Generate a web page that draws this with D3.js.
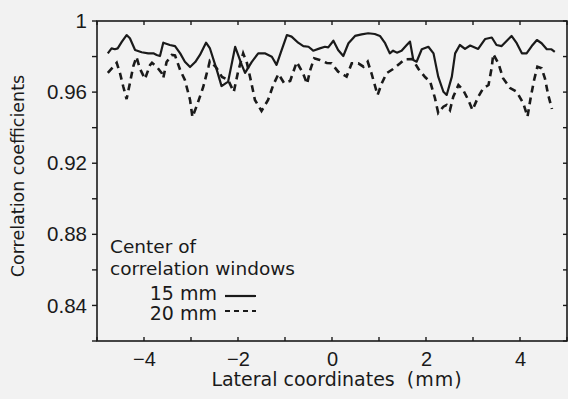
<!DOCTYPE html>
<html>
<head>
<meta charset="utf-8">
<script src="https://cdn.jsdelivr.net/npm/d3@7"></script>
<style>
  html, body { margin: 0; padding: 0; background: #f2f2f2; }
  svg { display: block; font-family: "DejaVu Sans", sans-serif; }
</style>
</head>
<body>
<svg id="chart"></svg>
<script>
// Data (lateral coordinate in mm, correlation coefficient)
const x15 = [-4.77, -4.69, -4.62, -4.56, -4.47, -4.37, -4.30, -4.19, -4.05, -3.91, -3.80, -3.73, -3.66, -3.59, -3.45, -3.34, -3.23, -3.13, -3.02, -2.91, -2.81, -2.68, -2.60, -2.45, -2.35, -2.21, -2.06, -1.92, -1.85, -1.71, -1.57, -1.43, -1.28, -1.18, -1.07, -0.96, -0.86, -0.72, -0.61, -0.50, -0.40, -0.26, -0.15, -0.08, 0.03, 0.13, 0.24, 0.35, 0.49, 0.63, 0.77, 0.91, 1.02, 1.13, 1.23, 1.30, 1.38, 1.48, 1.59, 1.66, 1.73, 1.80, 1.91, 2.05, 2.16, 2.26, 2.37, 2.44, 2.55, 2.62, 2.72, 2.83, 2.94, 3.11, 3.26, 3.40, 3.50, 3.61, 3.72, 3.82, 3.93, 4.04, 4.14, 4.25, 4.36, 4.46, 4.57, 4.67, 4.74];
const y15 = [0.9818, 0.9846, 0.9841, 0.9846, 0.9884, 0.9921, 0.9903, 0.9837, 0.9824, 0.9818, 0.9818, 0.9809, 0.9803, 0.9878, 0.9865, 0.9859, 0.9818, 0.9771, 0.9741, 0.9769, 0.9809, 0.9878, 0.9848, 0.9724, 0.9634, 0.9659, 0.9855, 0.9753, 0.9708, 0.9769, 0.9818, 0.9818, 0.9799, 0.9753, 0.9837, 0.9921, 0.9912, 0.9878, 0.9859, 0.9855, 0.9833, 0.9846, 0.9855, 0.9852, 0.9889, 0.9837, 0.9803, 0.9875, 0.9916, 0.9925, 0.9931, 0.9927, 0.9916, 0.9875, 0.9818, 0.9833, 0.9822, 0.9833, 0.9865, 0.9884, 0.9781, 0.9771, 0.9841, 0.9855, 0.9818, 0.9687, 0.9602, 0.9584, 0.9687, 0.9818, 0.9865, 0.9843, 0.9862, 0.9843, 0.9899, 0.9907, 0.9865, 0.9859, 0.9889, 0.9916, 0.9875, 0.9818, 0.9818, 0.9859, 0.9893, 0.9875, 0.9841, 0.9841, 0.9827];

const x20 = [-4.77, -4.65, -4.58, -4.51, -4.44, -4.37, -4.30, -4.23, -4.16, -4.09, -3.98, -3.87, -3.83, -3.73, -3.62, -3.59, -3.52, -3.41, -3.34, -3.23, -3.13, -3.02, -2.97, -2.87, -2.74, -2.63, -2.60, -2.47, -2.34, -2.21, -2.09, -2.00, -1.89, -1.81, -1.72, -1.64, -1.50, -1.36, -1.25, -1.14, -1.02, -0.89, -0.75, -0.62, -0.53, -0.47, -0.38, -0.26, -0.11, -0.01, 0.13, 0.31, 0.42, 0.56, 0.67, 0.76, 0.84, 0.91, 0.97, 1.06, 1.16, 1.30, 1.45, 1.55, 1.71, 1.84, 1.98, 2.09, 2.19, 2.26, 2.37, 2.44, 2.51, 2.58, 2.69, 2.79, 2.90, 2.99, 3.11, 3.22, 3.33, 3.40, 3.43, 3.54, 3.64, 3.79, 3.93, 4.07, 4.16, 4.23, 4.30, 4.37, 4.46, 4.53, 4.60, 4.68];
const y20 = [0.9708, 0.9743, 0.9765, 0.9706, 0.9630, 0.9561, 0.9650, 0.9743, 0.9798, 0.9734, 0.9674, 0.9753, 0.9765, 0.9743, 0.9706, 0.9679, 0.9769, 0.9809, 0.9806, 0.9724, 0.9668, 0.9556, 0.9460, 0.9528, 0.9629, 0.9741, 0.9775, 0.9741, 0.9685, 0.9668, 0.9601, 0.9713, 0.9818, 0.9764, 0.9657, 0.9556, 0.9494, 0.9556, 0.9640, 0.9702, 0.9651, 0.9663, 0.9769, 0.9708, 0.9646, 0.9719, 0.9790, 0.9781, 0.9764, 0.9762, 0.9715, 0.9687, 0.9762, 0.9762, 0.9743, 0.9771, 0.9706, 0.9640, 0.9584, 0.9650, 0.9706, 0.9730, 0.9762, 0.9785, 0.9786, 0.9730, 0.9685, 0.9657, 0.9567, 0.9483, 0.9518, 0.9528, 0.9499, 0.9574, 0.9640, 0.9612, 0.9556, 0.9499, 0.9573, 0.9623, 0.9640, 0.9741, 0.9814, 0.9762, 0.9678, 0.9623, 0.9602, 0.9537, 0.9462, 0.9573, 0.9668, 0.9743, 0.9734, 0.9678, 0.9584, 0.9505];

const xTicks = [-4, -2, 0, 2, 4];
const xMinor = [-5, -3, -1, 1, 3, 5];
const yTicks = [0.84, 0.88, 0.92, 0.96, 1];
const yMinor = [0.82, 0.86, 0.9, 0.94, 0.98];
const legendTitle = ["Center of", "correlation windows"];
const legendLabels = ["15 mm", "20 mm"];

const width = 568, height = 399;
const margin = { left: 97, right: 1, top: 21, bottom: 58 };

const svg = d3.select("#chart").attr("width", width).attr("height", height);

const x = d3.scaleLinear().domain([-5, 5]).range([margin.left, width - margin.right]);
const y = d3.scaleLinear().domain([0.82, 1]).range([height - margin.bottom, margin.top]);

const ink = "#1a1a1a";

// frame
svg.append("rect")
  .attr("x", x(-5)).attr("y", y(1))
  .attr("width", x(5) - x(-5)).attr("height", y(0.82) - y(1))
  .attr("fill", "none").attr("stroke", ink).attr("stroke-width", 1.6);

// axes
const allX = xTicks.concat(xMinor);
const allY = yTicks.concat(yMinor);

svg.append("g")
  .attr("transform", `translate(0,${y(0.82)})`)
  .call(d3.axisBottom(x).tickValues(xTicks).tickSize(0).tickPadding(11)
    .tickFormat(d => d3.format("d")(d).replace("-", "\u2212")))
  .call(g => g.select(".domain").remove())
  .call(g => g.selectAll("text").attr("font-size", 20).attr("fill", ink).attr("font-family", null));

svg.append("g")
  .attr("transform", `translate(${x(-5)},0)`)
  .call(d3.axisLeft(y).tickValues(yTicks).tickSize(0).tickPadding(10)
    .tickFormat(d => d === 1 ? "1" : d3.format(".2f")(d)))
  .call(g => g.select(".domain").remove())
  .call(g => g.selectAll("text").attr("font-size", 20.5).attr("fill", ink).attr("font-family", null));

// tick marks: inward on bottom/top/right, outward on left
const tk = svg.append("g").attr("stroke", ink).attr("stroke-width", 1.4);
tk.selectAll(".tb").data(allX).join("line")
  .attr("x1", d => x(d)).attr("x2", d => x(d))
  .attr("y1", y(0.82)).attr("y2", y(0.82) - 4);
tk.selectAll(".tt").data(allX).join("line")
  .attr("x1", d => x(d)).attr("x2", d => x(d))
  .attr("y1", y(1)).attr("y2", y(1) + 4);
tk.selectAll(".tl").data(allY).join("line")
  .attr("x1", x(-5) - 5).attr("x2", x(-5))
  .attr("y1", d => y(d)).attr("y2", d => y(d));
tk.selectAll(".tr").data(allY).join("line")
  .attr("x1", x(5) - 4).attr("x2", x(5))
  .attr("y1", d => y(d)).attr("y2", d => y(d));

// axis titles
const xt = svg.append("text")
  .attr("x", 337).attr("y", 386)
  .attr("text-anchor", "middle").attr("font-size", 19).attr("fill", ink);
xt.append("tspan").text("Lateral coordinates");
xt.append("tspan").attr("dx", 12).attr("letter-spacing", 1).text("(mm)");

svg.append("text")
  .attr("transform", `translate(24,${(y(1) + y(0.82)) / 2 - 5}) rotate(-90)`)
  .attr("text-anchor", "middle").attr("font-size", 17.5).attr("fill", ink)
  .text("Correlation coefficients");

// lines
const line = d3.line().x(d => x(d[0])).y(d => y(d[1]));

svg.append("path")
  .datum(d3.zip(x20, y20))
  .attr("d", line)
  .attr("fill", "none").attr("stroke", ink)
  .attr("stroke-width", 2.6).attr("stroke-dasharray", "7,5");

svg.append("path")
  .datum(d3.zip(x15, y15))
  .attr("d", line)
  .attr("fill", "none").attr("stroke", ink)
  .attr("stroke-width", 2.2).attr("stroke-linejoin", "round");

// legend
const lg = svg.append("g").attr("fill", ink);
lg.selectAll(".title").data(legendTitle).join("text")
  .attr("x", 110).attr("y", (d, i) => 253 + i * 22)
  .attr("font-size", 18.5)
  .text(d => d);
lg.selectAll(".lab").data(legendLabels).join("text")
  .attr("x", 217).attr("y", (d, i) => 300 + i * 20)
  .attr("text-anchor", "end").attr("font-size", 19)
  .text(d => d);
lg.selectAll(".sw").data(legendLabels).join("line")
  .attr("x1", 225).attr("x2", 256)
  .attr("y1", (d, i) => 296 + i * 15).attr("y2", (d, i) => 296 + i * 15)
  .attr("stroke", ink).attr("stroke-width", 2.2)
  .attr("stroke-dasharray", (d, i) => i === 0 ? null : "5,4");
</script>
</body>
</html>
